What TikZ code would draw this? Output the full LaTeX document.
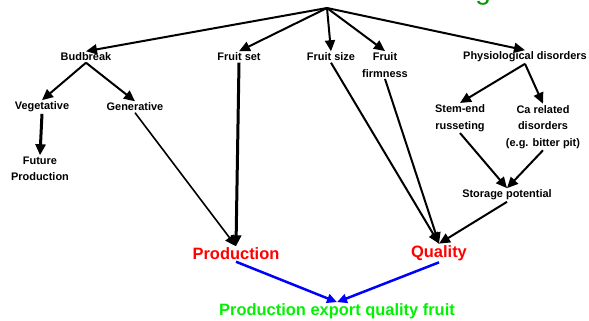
\documentclass[tikz,border=0pt]{standalone}
\usepackage{fontspec}
\setmainfont{Liberation Sans}
\usetikzlibrary{arrows.meta}

\begin{document}
\begin{tikzpicture}[x=1bp,y=-1bp]
%%%%%%%%%%%%%%%%%%%%%%%%%%%%%%%%%%%%%%%%%%%%%%%%%%%%%%%%%%%%%%
%styles
\tikzstyle{factor}=[font=\fontsize{11}{16.5}\selectfont\bfseries,align=center,inner sep=1.5pt]
\tikzstyle{outcome}=[font=\fontsize{16.5}{20}\selectfont\bfseries,text=red,inner sep=1.5pt]
\definecolor{brightgreen}{rgb}{0,0.95,0}
\definecolor{titlegreen}{rgb}{0,0.6,0}
\tikzstyle{goal}=[font=\fontsize{16.5}{20}\selectfont\bfseries,text=brightgreen,inner sep=1pt]
\tikzstyle{link}=[-{Triangle[length=11bp,width=10bp]},line width=2bp]
\tikzstyle{flow}=[-{Triangle[length=10bp,width=9bp]},line width=2.5bp,blue]
\useasboundingbox (0,0) rectangle (589,320);
%title (cut off)
\node[anchor=base,text=titlegreen,font=\fontsize{28}{28}\selectfont,inner sep=0pt] (titleg) at (483,-1) {g};
%nodes
\coordinate (top) at (327,8);
\node[factor] (budbreak) at (86,57) {Budbreak};
\node[factor] (fruitset) at (239,57) {Fruit set};
\node[factor] (fruitsize) at (331,57) {Fruit size};
\node[factor] (firmness) at (385,65) {Fruit\\firmness};
\node[factor] (physio) at (525,57) {Physiological disorders};
\node[factor] (veg) at (42,107) {Vegetative};
\node[factor] (gen) at (135,107) {Generative};
\node[factor] (future) at (40,169) {Future\\Production};
\node[factor] (stemend) at (460,118) {Stem-end\\russeting};
\node[factor] (carel) at (543,127) {Ca related\\disorders\\(e.g. bitter pit)};
\node[factor] (storage) at (507,195) {Storage potential};
%outcomes
\node[outcome] (production) at (236,254) {Production};
\node[outcome] (quality) at (439,253) {Quality};
\node[goal] (exportfruit) at (337,311) {Production export quality fruit};
%%%%%%%%%%%%%%%%%%%%%%%%%%%%%%%%%%%%%%%%%%%%%%%%%%%%%%%%%%%%%%
%ARROWS
\draw[link] (top) -- (budbreak.north);
\draw[link] (top) -- (fruitset.north);
\draw[link] (top) -- (fruitsize.north);
\draw[link] (top) -- (firmness.north);
\draw[link] (top) -- (physio.north);
\draw[link] (budbreak.south) -- (veg.north);
\draw[link] (budbreak.south) -- (gen.north);
\draw[link, line width=3bp] (veg.south) -- (future.north);
\draw[link, line width=1.6bp] (gen.south) -- (production.north);
\draw[link, line width=3bp] (fruitset.south) -- (production.north);
\draw[link] (fruitsize.south) -- (quality.north);
\draw[link] (firmness.south) -- (quality.north);
\draw[link] (physio.south) -- (stemend.north);
\draw[link] (physio.south) -- (carel.north);
\draw[link] (stemend.south) -- (storage.north);
\draw[link] (carel.south) -- (storage.north);
\draw[link] (storage.south) -- (quality.north);
\draw[flow] (production.south) -- (exportfruit.north);
\draw[flow] (quality.south) -- (exportfruit.north);
\end{tikzpicture}
\end{document}
